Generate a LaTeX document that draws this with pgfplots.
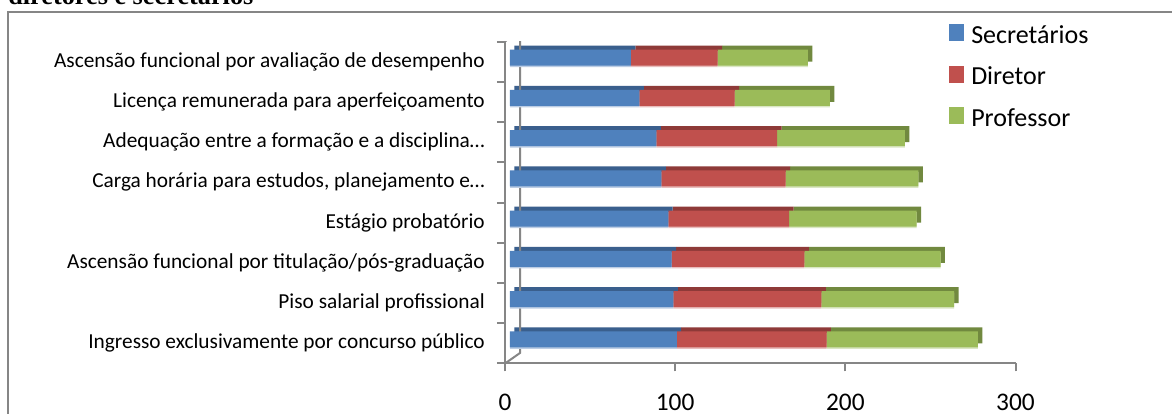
\documentclass[border=0pt]{standalone}
\usepackage{pgfplots}
\usepackage{pgfplotstable}
\pgfplotsset{compat=1.18}
\usepackage{fontspec}
\setmainfont{Carlito}
\newfontfamily\timesfont{Liberation Serif}
\definecolor{axgray}{HTML}{868686}
\definecolor{cBlue}{HTML}{4F81BD}
\definecolor{cRed}{HTML}{C0504D}
\definecolor{cGreen}{HTML}{9BBB59}
\definecolor{dBlue}{HTML}{3A5F8D}
\definecolor{dRed}{HTML}{8E3A38}
\definecolor{dGreen}{HTML}{71893F}
\definecolor{pBlue}{HTML}{BCCDE4}
\definecolor{pRed}{HTML}{E8BDBC}
\definecolor{pGreen}{HTML}{DAE6C3}

\pgfplotstableread{
y sec dir prof
0 98 88 89
1 96 87 78
2 95 78 80
3 93 71 75
4 89 73 78
5 86 71 75
6 76 56 56
7 71 51 53
}\datatable

\pgfplotsset{base/.style={
  scale only axis, width=382.875pt, height=241.5pt,
  at={(378.75pt,37.875pt)}, anchor=south west,
  xmin=0, xmax=300, ymin=-0.5, ymax=7.5,
  xbar stacked, bar width=12pt,
}}

\begin{document}
\begin{tikzpicture}[x=0.75pt,y=0.75pt]
\clip (0,0) rectangle (1172,414);
\fill[white] (0,0) rectangle (1172,414);
\node[anchor=base west, inner sep=0pt, font=\timesfont\bfseries\fontsize{19.7}{20}\selectfont] at (8,409) {diretores e secretários};
\draw[axgray, line width=1.5pt] (8.3,-20) -- (8.3,402.3) -- (1200,402.3);

\begin{axis}[base, hide axis]
  \draw[axgray, line width=1.5pt] (rel axis cs:0,1) -- ++(11.25pt,9pt) -- ([shift={(11.25pt,7.9pt)}]rel axis cs:0,0) -- (rel axis cs:0,0);
  \addplot[fill=dBlue, draw=none, xshift=7.1pt, yshift=6pt] table[x=sec, y=y] {\datatable};
  \addplot[fill=dRed, draw=none, xshift=7.1pt, yshift=6pt] table[x=dir, y=y] {\datatable};
  \addplot[fill=dGreen, draw=none, xshift=7.1pt, yshift=6pt] table[x=prof, y=y] {\datatable};
\end{axis}

\begin{axis}[base, hide axis]
  \addplot[fill=pBlue, draw=none, xshift=3.75pt, yshift=1.8pt] table[x=sec, y=y] {\datatable};
  \addplot[fill=pRed, draw=none, xshift=3.75pt, yshift=1.8pt] table[x=dir, y=y] {\datatable};
  \addplot[fill=pGreen, draw=none, xshift=3.75pt, yshift=1.8pt] table[x=prof, y=y] {\datatable};
\end{axis}

\begin{axis}[base,
  axis x line*=bottom, axis y line*=left,
  axis line style={axgray, line width=1.5pt},
  tick align=outside, major tick length=6pt,
  tick style={axgray, line width=1.5pt},
  xtick={0,100,200,300},
  ytick={-0.5,0.5,...,7.5}, yticklabels={},
  extra y ticks={0,1,...,7},
  extra y tick labels={Ingresso exclusivamente por concurso público, Piso salarial profissional, Ascensão funcional por titulação/pós-graduação, Estágio probatório, {Carga horária para estudos, planejamento e…}, Adequação entre a formação e a disciplina…, Licença remunerada para aperfeiçoamento, Ascensão funcional por avaliação de desempenho},
  extra y tick style={major tick length=0pt, tick style={draw=none}},
  yticklabel style={font=\fontsize{16}{16}\selectfont, anchor=east, inner sep=0pt, xshift=-15pt},
  xticklabel style={font=\fontsize{19}{19}\selectfont, inner sep=0pt, anchor=north, yshift=-17pt},
  /pgf/number format/assume math mode=true,
  legend image code/.code={\path (0pt,-5.8pt) rectangle (11.25pt,5.5pt); \fill[#1, overlay] (0pt,-7.3pt) rectangle (11.25pt,4pt);},
  legend style={draw=none, fill=none, inner sep=0pt, font=\fontsize{19.5}{19.5}\selectfont,
    at={(0.8697,1.0555)}, anchor=north west, row sep=14.75pt, column sep=5.25pt,
    nodes={inner sep=0pt, text height=14pt, text depth=2pt}},
  legend cell align=left,
]
  \addplot[fill=cBlue, draw=none, xshift=3.75pt, yshift=3pt] table[x=sec, y=y] {\datatable};
  \addlegendentry{Secretários}
  \addplot[fill=cRed, draw=none, xshift=3.75pt, yshift=3pt] table[x=dir, y=y] {\datatable};
  \addlegendentry{Diretor}
  \addplot[fill=cGreen, draw=none, xshift=3.75pt, yshift=3pt] table[x=prof, y=y] {\datatable};
  \addlegendentry{Professor}
\end{axis}
\end{tikzpicture}
\end{document}
